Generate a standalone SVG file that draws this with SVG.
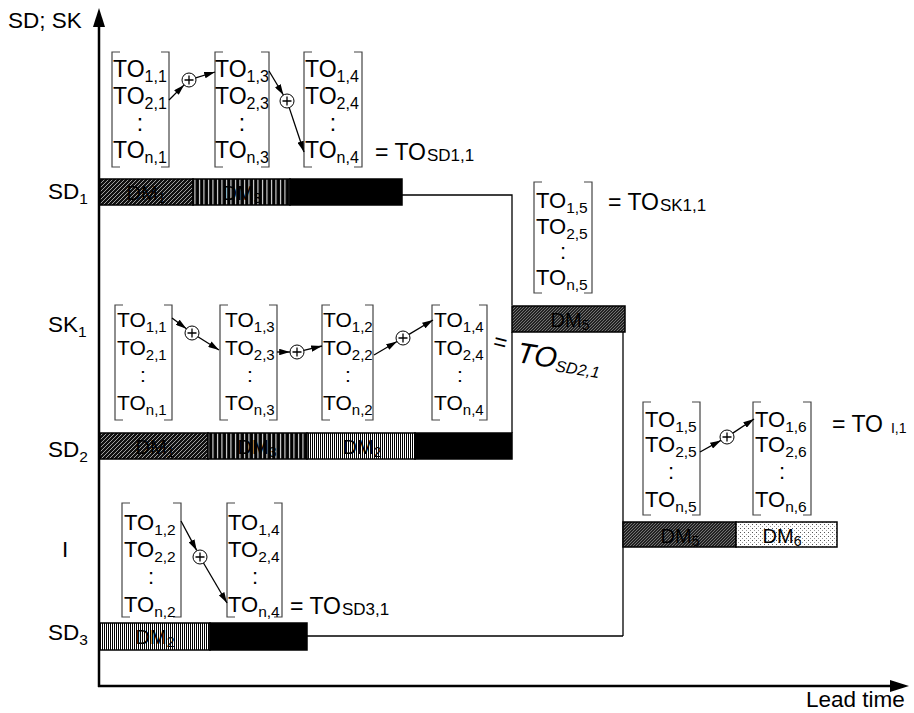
<svg xmlns="http://www.w3.org/2000/svg" width="914" height="713" viewBox="0 0 914 713">
<style>
text{font-family:"Liberation Sans",Arial,sans-serif;fill:#000}
.t{font-size:21px}
.s{font-size:15px}
.ss{font-size:17px}
g.A .t{font-size:23px}
g.A .s{font-size:16px}
g.B .t{font-size:22px}
g.B .s{font-size:15.5px}
.lbl{font-size:22.5px}
.ls{font-size:15.5px}
.br{fill:none;stroke:#444;stroke-width:1.2}
.ax{stroke:#000;stroke-width:2.5;fill:none}
.cn{stroke:#000;stroke-width:1.3;fill:none}
.ar{stroke:#000;stroke-width:1.3;fill:none;marker-end:url(#ah)}
.op{fill:#fff;stroke:#000;stroke-width:1}
.bar{stroke:#000;stroke-width:1.5}
.dm{font-size:20px}
.dms{font-size:14px}
</style>
<defs>
<marker id="ah" viewBox="0 0 10 6" refX="10" refY="3" markerWidth="11" markerHeight="6.5" markerUnits="userSpaceOnUse" orient="auto"><path d="M0,0 L10,3 L0,6 z" fill="#000"/></marker>
<pattern id="pDM1" width="4" height="4" patternUnits="userSpaceOnUse"><rect width="4" height="4" fill="#111"/><path d="M-1,5 L5,-1" stroke="#ddd" stroke-width="0.7"/></pattern>
<pattern id="pDM3" width="4.5" height="4" patternUnits="userSpaceOnUse"><rect width="4.5" height="4" fill="#000"/><rect x="1" width="1" height="4" fill="#fff"/></pattern>
<pattern id="pDM2" width="2" height="2" patternUnits="userSpaceOnUse"><rect width="2" height="2" fill="#fff"/><rect width="1" height="2" fill="#000"/></pattern>
<pattern id="pDM5" width="3" height="3" patternUnits="userSpaceOnUse"><rect width="3" height="3" fill="#222"/><path d="M-1,4 L4,-1" stroke="#aaa" stroke-width="0.6"/></pattern>
<pattern id="pDM6" width="4" height="4" patternUnits="userSpaceOnUse"><rect width="4" height="4" fill="#fff"/><rect x="0" y="0" width="1" height="1" fill="#555"/><rect x="2" y="2" width="1" height="1" fill="#999"/></pattern>
<g id="plus"><circle class="op" r="7"/><path d="M-4.5,0 H4.5 M0,-4.5 V4.5" stroke="#000" stroke-width="1.3"/></g>
</defs>
<rect width="914" height="713" fill="#fff"/>

<g id="axes">
<path class="ax" d="M99,24 V687 M98,686 H894"/>
<polygon points="99,8 93,27 105,27" fill="#000"/>
<polygon points="909,686 890,680 890,692" fill="#000"/>
<text class="lbl" x="8" y="28">SD; SK</text>
<text class="lbl" x="806" y="707">Lead time</text>
<text class="lbl" x="48" y="199">SD<tspan class="ls" dy="5">1</tspan></text>
<text class="lbl" x="48" y="332">SK<tspan class="ls" dy="5">1</tspan></text>
<text class="lbl" x="48" y="457">SD<tspan class="ls" dy="5">2</tspan></text>
<text class="lbl" x="62" y="557">I</text>
<text class="lbl" x="48" y="640">SD<tspan class="ls" dy="5">3</tspan></text>
</g>

<g id="connectors">
<path class="cn" d="M402,195 H512 V305"/>
<path class="cn" d="M512,332 V433"/>
<path class="cn" d="M623,332 V636"/>
<path class="cn" d="M307,636 H623"/>
</g>

<g id="bar-SD1">
<rect class="bar" x="100" y="179" width="93" height="26" fill="url(#pDM1)"/>
<rect class="bar" x="193" y="179" width="97" height="26" fill="url(#pDM3)"/>
<rect class="bar" x="290" y="179" width="112" height="26" fill="#000"/>
<text class="dm" x="146" y="200" text-anchor="middle">DM<tspan class="dms" dy="3">1</tspan></text>
<text class="dm" x="242" y="200" text-anchor="middle">DM<tspan class="dms" dy="3">3</tspan></text>
</g>

<g id="bar-SK1">
<rect class="bar" x="512" y="306" width="113" height="26" fill="url(#pDM5)"/>
<text class="dm" x="570" y="327" text-anchor="middle">DM<tspan class="dms" dy="3">5</tspan></text>
</g>

<g id="bar-SD2">
<rect class="bar" x="100" y="433" width="108" height="26" fill="url(#pDM1)"/>
<rect class="bar" x="208" y="433" width="99" height="26" fill="url(#pDM3)"/>
<rect class="bar" x="307" y="433" width="108" height="26" fill="url(#pDM2)"/>
<rect class="bar" x="415" y="433" width="97" height="26" fill="#000"/>
<text class="dm" x="155" y="454" text-anchor="middle">DM<tspan class="dms" dy="3">1</tspan></text>
<text class="dm" x="257" y="454" text-anchor="middle">DM<tspan class="dms" dy="3">3</tspan></text>
<text class="dm" x="362" y="454" text-anchor="middle">DM<tspan class="dms" dy="3">2</tspan></text>
</g>

<g id="bar-I">
<rect class="bar" x="623" y="522" width="113" height="25" fill="url(#pDM5)"/>
<rect class="bar" x="736" y="522" width="101" height="25" fill="url(#pDM6)"/>
<text class="dm" x="680" y="543" text-anchor="middle">DM<tspan class="dms" dy="3">5</tspan></text>
<text class="dm" x="782" y="543" text-anchor="middle">DM<tspan class="dms" dy="3">6</tspan></text>
</g>

<g id="bar-SD3">
<rect class="bar" x="100" y="623" width="110" height="27" fill="url(#pDM2)"/>
<rect class="bar" x="210" y="623" width="97" height="27" fill="#000"/>
<text class="dm" x="155" y="644" text-anchor="middle">DM<tspan class="dms" dy="3">2</tspan></text>
</g>

<!-- SD1 formula -->
<g id="sd1-m1" class="A">
<path class="br" d="M120,52 H112 V167 H120 M161,52 H169 V167 H161"/>
<text class="t" x="113" y="77">TO<tspan class="s" dy="5">1,1</tspan></text>
<text class="t" x="113" y="104">TO<tspan class="s" dy="5">2,1</tspan></text>
<text class="t" x="140" y="131" text-anchor="middle">:</text>
<text class="t" x="113" y="158">TO<tspan class="s" dy="5">n,1</tspan></text>
</g>
<g id="sd1-m3" class="A">
<path class="br" d="M223,52 H215 V167 H223 M261,52 H269 V167 H261"/>
<text class="t" x="215" y="77">TO<tspan class="s" dy="5">1,3</tspan></text>
<text class="t" x="215" y="104">TO<tspan class="s" dy="5">2,3</tspan></text>
<text class="t" x="242" y="131" text-anchor="middle">:</text>
<text class="t" x="215" y="158">TO<tspan class="s" dy="5">n,3</tspan></text>
</g>
<g id="sd1-m4" class="A">
<path class="br" d="M312,52 H304 V167 H312 M354,52 H362 V167 H354"/>
<text class="t" x="305" y="77">TO<tspan class="s" dy="5">1,4</tspan></text>
<text class="t" x="305" y="104">TO<tspan class="s" dy="5">2,4</tspan></text>
<text class="t" x="333" y="131" text-anchor="middle">:</text>
<text class="t" x="305" y="158">TO<tspan class="s" dy="5">n,4</tspan></text>
</g>
<g id="sd1-ops" class="A">
<use href="#plus" x="189" y="80"/>
<use href="#plus" x="287" y="101"/>
<path class="ar" d="M169,100 L184.1,84.9"/>
<path class="ar" d="M195.7,77.9 L215,72"/>
<path class="ar" d="M269,71 L283.4,95"/>
<path class="ar" d="M289.2,107.6 L304,152"/>
<text class="t" x="375" y="160">= TO<tspan class="ss" dx="1" dy="1">SD1,1</tspan></text>
</g>

<!-- SK1 formula -->
<g id="sk1-m5" class="B">
<path class="br" d="M542,182 H534 V293 H542 M584,182 H592 V293 H584"/>
<text class="t" x="536" y="208">TO<tspan class="s" dy="5">1,5</tspan></text>
<text class="t" x="536" y="234">TO<tspan class="s" dy="5">2,5</tspan></text>
<text class="t" x="563" y="259" text-anchor="middle">:</text>
<text class="t" x="536" y="285">TO<tspan class="s" dy="5">n,5</tspan></text>
<text class="t" x="608" y="210" style="font-size:23px">= TO<tspan class="ss" dx="1" dy="1">SK1,1</tspan></text>
</g>

<!-- SD2 formula -->
<g id="sd2-m1">
<path class="br" d="M123,305 H115 V420 H123 M164,305 H172 V420 H164"/>
<text class="t" x="117" y="327">TO<tspan class="s" dy="5">1,1</tspan></text>
<text class="t" x="117" y="355">TO<tspan class="s" dy="5">2,1</tspan></text>
<text class="t" x="143" y="382" text-anchor="middle">:</text>
<text class="t" x="117" y="410">TO<tspan class="s" dy="5">n,1</tspan></text>
</g>
<g id="sd2-m3">
<path class="br" d="M228,305 H220 V420 H228 M269,305 H277 V420 H269"/>
<text class="t" x="225" y="327">TO<tspan class="s" dy="5">1,3</tspan></text>
<text class="t" x="225" y="355">TO<tspan class="s" dy="5">2,3</tspan></text>
<text class="t" x="250" y="382" text-anchor="middle">:</text>
<text class="t" x="225" y="410">TO<tspan class="s" dy="5">n,3</tspan></text>
</g>
<g id="sd2-m2">
<path class="br" d="M330,305 H322 V420 H330 M365,305 H373 V420 H365"/>
<text class="t" x="323" y="327">TO<tspan class="s" dy="5">1,2</tspan></text>
<text class="t" x="323" y="355">TO<tspan class="s" dy="5">2,2</tspan></text>
<text class="t" x="348" y="382" text-anchor="middle">:</text>
<text class="t" x="323" y="410">TO<tspan class="s" dy="5">n,2</tspan></text>
</g>
<g id="sd2-m4">
<path class="br" d="M440,305 H432 V420 H440 M479,305 H487 V420 H479"/>
<text class="t" x="434" y="327">TO<tspan class="s" dy="5">1,4</tspan></text>
<text class="t" x="434" y="355">TO<tspan class="s" dy="5">2,4</tspan></text>
<text class="t" x="460" y="382" text-anchor="middle">:</text>
<text class="t" x="434" y="410">TO<tspan class="s" dy="5">n,4</tspan></text>
</g>
<g id="sd2-ops">
<use href="#plus" x="192" y="333"/>
<use href="#plus" x="297" y="352"/>
<use href="#plus" x="403" y="338"/>
<path class="ar" d="M172,318 L186.4,328.8"/>
<path class="ar" d="M197.9,336.7 L219,350"/>
<path class="ar" d="M277,352 L290,352"/>
<path class="ar" d="M303.8,350.4 L322,346"/>
<path class="ar" d="M374,355 L397,341.5"/>
<path class="ar" d="M409,334.4 L433,320"/>
<text transform="translate(492,348) rotate(14)" style="font-size:23px">=</text>
<text transform="translate(516,362) rotate(9)" font-size="29" font-style="italic">TO<tspan font-size="16" dy="3">SD2,1</tspan></text>
</g>

<!-- I formula -->
<g id="i-m5" class="B">
<path class="br" d="M651,402 H643 V515 H651 M692,402 H700 V515 H692"/>
<text class="t" x="645" y="427">TO<tspan class="s" dy="5">1,5</tspan></text>
<text class="t" x="645" y="452">TO<tspan class="s" dy="5">2,5</tspan></text>
<text class="t" x="671" y="479" text-anchor="middle">:</text>
<text class="t" x="645" y="507">TO<tspan class="s" dy="5">n,5</tspan></text>
</g>
<g id="i-m6" class="B">
<path class="br" d="M761,402 H753 V515 H761 M803,402 H811 V515 H803"/>
<text class="t" x="755" y="427">TO<tspan class="s" dy="5">1,6</tspan></text>
<text class="t" x="755" y="452">TO<tspan class="s" dy="5">2,6</tspan></text>
<text class="t" x="782" y="479" text-anchor="middle">:</text>
<text class="t" x="755" y="507">TO<tspan class="s" dy="5">n,6</tspan></text>
</g>
<g id="i-ops" class="B">
<use href="#plus" x="727" y="437"/>
<path class="ar" d="M700,452 L720.9,440.4"/>
<path class="ar" d="M732.8,433.1 L754,419"/>
<text class="t" x="832" y="432" style="font-size:23px">= TO<tspan class="ss" dx="8" dy="1" style="font-size:14px">I,1</tspan></text>
</g>

<!-- SD3 formula -->
<g id="sd3-m2" class="B">
<path class="br" d="M130,503 H122 V617 H130 M173,503 H181 V617 H173"/>
<text class="t" x="124" y="530">TO<tspan class="s" dy="5">1,2</tspan></text>
<text class="t" x="124" y="557">TO<tspan class="s" dy="5">2,2</tspan></text>
<text class="t" x="151" y="584" text-anchor="middle">:</text>
<text class="t" x="124" y="612">TO<tspan class="s" dy="5">n,2</tspan></text>
</g>
<g id="sd3-m4" class="B">
<path class="br" d="M235,503 H227 V617 H235 M274,503 H282 V617 H274"/>
<text class="t" x="228" y="530">TO<tspan class="s" dy="5">1,4</tspan></text>
<text class="t" x="228" y="557">TO<tspan class="s" dy="5">2,4</tspan></text>
<text class="t" x="255" y="584" text-anchor="middle">:</text>
<text class="t" x="228" y="612">TO<tspan class="s" dy="5">n,4</tspan></text>
</g>
<g id="sd3-ops" class="B">
<use href="#plus" x="200" y="557"/>
<path class="ar" d="M181,521 L196.7,550.4"/>
<path class="ar" d="M203.5,563 L227,603"/>
<text class="t" x="290" y="614" style="font-size:23px">= TO<tspan class="ss" dx="1" dy="1">SD3,1</tspan></text>
</g>
</svg>
